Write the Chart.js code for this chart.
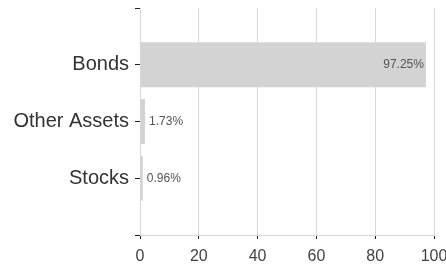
<!DOCTYPE html>
<html>
<head>
<meta charset="utf-8">
<script src="https://cdn.jsdelivr.net/npm/chart.js@4"></script>
<style>
  html, body { margin: 0; padding: 0; background: #fff; }
  #wrap { width: 446px; height: 269px; }
</style>
</head>
<body>
<div id="wrap"><canvas id="chart"></canvas></div>
<script>
/* asset allocation, horizontal bars */

// blank slots at both ends keep the edge ticks of the category axis
const categories = ['', 'Bonds', 'Other Assets', 'Stocks', ''];
const shares     = [null, 97.25, 1.73, 0.96, null];
const xTicks     = [0, 20, 40, 60, 80, 100];

const BAR_COLOR  = '#d3d3d3';
const GRID_COLOR = '#d9d9d9';
const FONT       = 'Liberation Sans, Arial, sans-serif';

const valueLabels = {
  id: 'valueLabels',
  afterDatasetsDraw(chart) {
    const ctx  = chart.ctx;
    const meta = chart.getDatasetMeta(0);
    ctx.save();
    ctx.font = '12px ' + FONT;
    ctx.fillStyle = '#555';
    ctx.textBaseline = 'middle';
    meta.data.forEach((bar, i) => {
      const v = shares[i];
      if (v == null) return;
      const txt = v.toFixed(2) + '%';
      if (v > 50) {
        ctx.textAlign = 'right';
        ctx.fillText(txt, bar.x - 2, bar.y);
      } else {
        ctx.textAlign = 'left';
        ctx.fillText(txt, bar.x + 4, bar.y);
      }
    });
    ctx.restore();
  }
};

new Chart(document.getElementById('chart'), {
  type: 'bar',
  data: {
    labels: categories,
    datasets: [{
      data: shares,
      backgroundColor: BAR_COLOR,
      borderWidth: 0,
      categoryPercentage: 0.79,
      barPercentage: 1,
    }],
  },
  options: {
    indexAxis: 'y',
    responsive: true,
    maintainAspectRatio: false,
    animation: false,
    layout: { padding: { top: 8, right: 12, left: 0, bottom: 0 } },
    plugins: { legend: { display: false }, tooltip: { enabled: false } },
    scales: {
      x: {
        min: 0,
        max: 100,
        afterBuildTicks: s => { s.ticks = xTicks.map(v => ({ value: v })); },
        afterFit: s => { s.height = 34; s.paddingLeft = 0; s.paddingRight = 0; },
        border: { color: GRID_COLOR },
        grid: { color: GRID_COLOR, tickColor: '#222', tickLength: 4 },
        ticks: { color: '#444', padding: 8, font: { family: FONT, size: 16 } },
      },
      y: {
        offset: false,
        afterFit: s => { s.width = 140; s.paddingTop = 0; s.paddingBottom = 0; },
        border: { color: GRID_COLOR },
        grid: { offset: false, drawOnChartArea: false, tickColor: '#222', tickLength: 5 },
        ticks: { color: '#333', padding: 6, font: { family: FONT, size: 20 } },
      },
    },
  },
  plugins: [valueLabels],
});
</script>
</body>
</html>
